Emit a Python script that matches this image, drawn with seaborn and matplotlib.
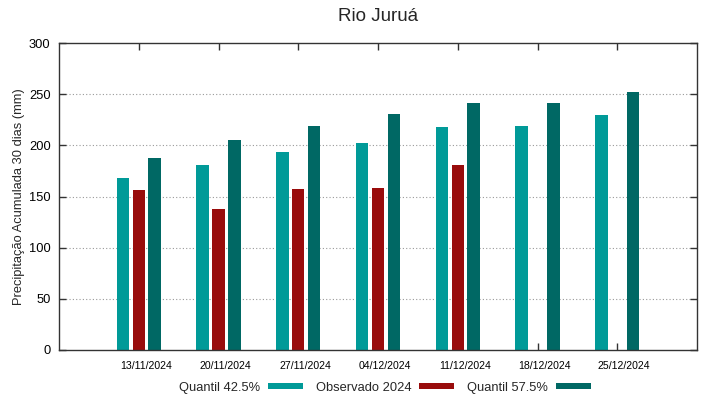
import matplotlib
matplotlib.use('Agg')
import matplotlib.pyplot as plt
import matplotlib.transforms as mtransforms
import pandas as pd
import seaborn as sns
import numpy as np

# semanas e valores (mm acumulados em 30 dias)
datas = ['13/11/2024', '20/11/2024', '27/11/2024', '04/12/2024',
         '11/12/2024', '18/12/2024', '25/12/2024']
quantil_425 = [168, 181, 193, 202, 218, 219, 230]
observado_2024 = [156, 138, 157, 158, 181, np.nan, np.nan]
quantil_575 = [188, 205, 219, 231, 241, 241, 252]

series = ['Quantil 42.5%', 'Observado 2024', 'Quantil 57.5%']
cores = ['#009a98', '#990c0c', '#006864']

df = pd.DataFrame({
    'Data': datas * 3,
    'Serie': [series[0]] * 7 + [series[1]] * 7 + [series[2]] * 7,
    'Valor': quantil_425 + observado_2024 + quantil_575,
})

sns.set_style('white')
plt.rcParams['font.family'] = ['Liberation Sans', 'DejaVu Sans']

fig = plt.figure(figsize=(7.19, 3.99), dpi=100)
ax = fig.add_axes([59 / 719, 49 / 399, 638 / 719, 307 / 399])

sns.barplot(data=df, x='Data', y='Valor', hue='Serie', hue_order=series,
            order=datas, palette=cores, width=0.6, gap=0.22,
            saturation=1, ax=ax, legend=True, edgecolor='none')

ax.set_xlim(-1, 7)
ax.set_ylim(0, 300)
ax.set_yticks(range(0, 301, 50))
ax.set_xlabel('')
ax.set_ylabel('Precipitação Acumulada 30 dias (mm)', fontsize=9.3, labelpad=3)
ax.set_title('Rio Juruá', fontsize=13.5, pad=16)

for y in range(50, 300, 50):
    ax.axhline(y, color='#999999', lw=0.8, ls=(0, (1, 2)), zorder=0)

for s in ax.spines.values():
    s.set_color('#333333')
    s.set_linewidth(1)

ax.tick_params(axis='y', direction='in', length=5, width=1, left=True,
               right=True, labelsize=9.3, pad=6, colors='#333333',
               labelcolor='black')
ax.tick_params(axis='x', direction='in', length=5, width=1, bottom=True,
               top=True, labelsize=7.6, pad=8, colors='#333333',
               labelcolor='black')

desloc = mtransforms.ScaledTranslation(7 / 100, 0, fig.dpi_scale_trans)
for lab in ax.get_xticklabels():
    lab.set_transform(lab.get_transform() + desloc)

handles, labels = ax.get_legend_handles_labels()
ax.get_legend().remove()
fig.legend(handles, labels, loc='center', bbox_to_anchor=(385 / 719, 1 - 388 / 399),
           ncol=3, markerfirst=False, frameon=False, fontsize=9.3,
           handlelength=2.7, handleheight=0.35, handletextpad=0.6,
           columnspacing=1.0)

fig.savefig('out.png', dpi=100)
